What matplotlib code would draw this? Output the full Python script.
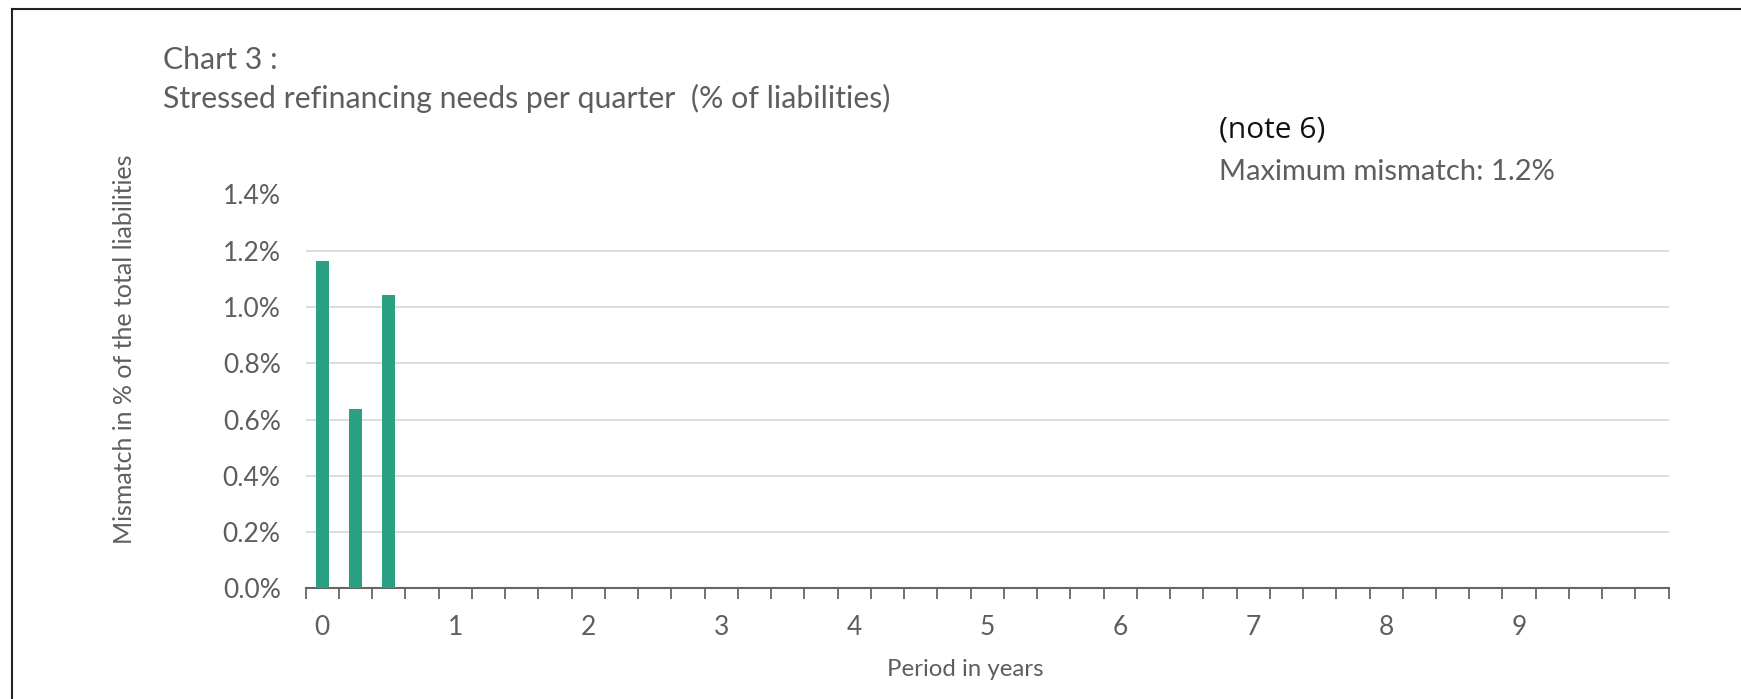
import matplotlib
matplotlib.use('Agg')
import matplotlib.pyplot as plt
from matplotlib.lines import Line2D
from matplotlib.ticker import FuncFormatter

# quarters in years (categories) and stressed mismatch in % of total liabilities
quarters = [0.0, 0.25, 0.5, 0.75, 1.0, 1.25, 1.5, 1.75, 2.0, 2.25, 2.5, 2.75,
            3.0, 3.25, 3.5, 3.75, 4.0, 4.25, 4.5, 4.75, 5.0, 5.25, 5.5, 5.75,
            6.0, 6.25, 6.5, 6.75, 7.0, 7.25, 7.5, 7.75, 8.0, 8.25, 8.5, 8.75,
            9.0, 9.25, 9.5, 9.75, 10.0]
mismatch = [1.163, 0.636, 1.043, 0, 0, 0, 0, 0, 0, 0, 0, 0, 0, 0, 0, 0, 0, 0,
            0, 0, 0, 0, 0, 0, 0, 0, 0, 0, 0, 0, 0, 0, 0, 0, 0, 0, 0, 0, 0, 0, 0]
year_ticks = [0, 1, 2, 3, 4, 5, 6, 7, 8, 9]
year_labels = ['0', '1', '2', '3', '4', '5', '6', '7', '8', '9']
y_ticks = [0.0, 0.2, 0.4, 0.6, 0.8, 1.0, 1.2, 1.4]

W, H = 1741, 699
plt.rcParams['font.family'] = ['Lato', 'DejaVu Sans']
grey = '#5e5e5e'

fig = plt.figure(figsize=(W / 100, H / 100), dpi=100)
ax = fig.add_axes([305.7 / W, 1 - 588.3 / H, 1363 / W, (588.3 - 194.5) / H])

step = 0.25
ax.bar(quarters, mismatch, width=0.4 * step, color='#29a081', zorder=3)

ax.set_xlim(quarters[0] - step / 2, quarters[-1] + step / 2)
ax.set_ylim(y_ticks[0], y_ticks[-1])

ax.set_xticks(year_ticks, year_labels)
ax.set_xticks([q - step / 2 for q in quarters] + [quarters[-1] + step / 2], minor=True)
ax.tick_params(axis='x', which='major', length=0, pad=19, labelsize=19, labelcolor=grey)
ax.tick_params(axis='x', which='minor', length=8, width=1.3, color='#666666', direction='out')

ax.set_yticks(y_ticks)
ax.yaxis.set_major_formatter(FuncFormatter(lambda v, p: f'{v:.1f}%'))
ax.tick_params(axis='y', length=0, pad=18, labelsize=19, labelcolor=grey)
ax.yaxis.grid(True, color='#d9d9d9', linewidth=1.3, zorder=0)
ax.get_ygridlines()[-1].set_visible(False)
ax.get_ygridlines()[0].set_visible(False)

for side in ['top', 'right', 'left']:
    ax.spines[side].set_visible(False)
ax.spines['bottom'].set_color('#666666')
ax.spines['bottom'].set_linewidth(1.5)
ax.set_axisbelow(True)

def fx(x):
    return x / W

def fy(y):
    return 1 - y / H

fig.text(fx(163), fy(60), 'Chart 3 :', fontsize=21.8, color=grey, va='center', ha='left')
fig.text(fx(163), fy(98), 'Stressed refinancing needs per quarter  (% of liabilities)',
         fontsize=21.8, color=grey, va='center', ha='left')
fig.text(fx(1219), fy(130), '(note 6)', fontsize=21.5, color='#111111',
         family=['Open Sans', 'DejaVu Sans'], va='center', ha='left')
fig.text(fx(1219), fy(172), 'Maximum mismatch: 1.2%', fontsize=21, color=grey,
         va='center', ha='left')
fig.text(fx(124), fy(349), 'Mismatch in % of the total liabilities', fontsize=18,
         color=grey, rotation=90, va='center', ha='center')
fig.text(fx(965), fy(670), 'Period in years', fontsize=17.3, color=grey,
         va='center', ha='center')

# frame lines on the left and top edge
fig.add_artist(Line2D([fx(12), fx(12)], [fy(9), 0], color='#222222', linewidth=1.5))
fig.add_artist(Line2D([fx(12), 1], [fy(9), fy(9)], color='#222222', linewidth=1.5))

fig.savefig('out.png', dpi=100)
